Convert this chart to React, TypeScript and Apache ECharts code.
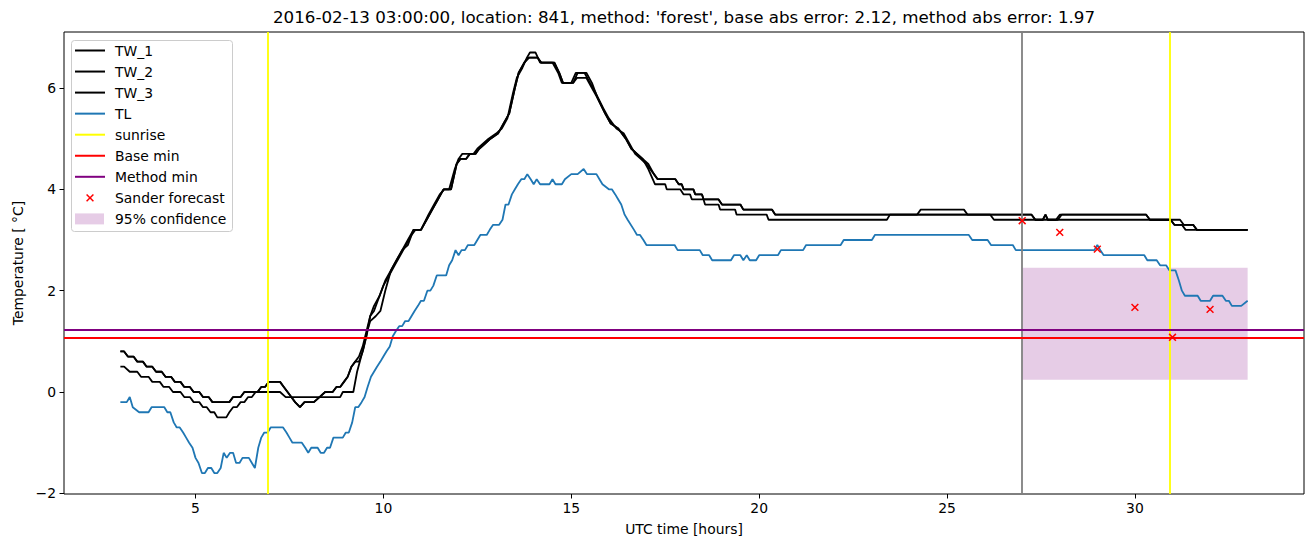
import { useEffect, useRef } from "react";
import * as echarts from "echarts";

const TITLE =
  "2016-02-13 03:00:00, location: 841, method: 'forest', base abs error: 2.12, method abs error: 1.97";
const X_LABEL = "UTC time [hours]";
const Y_LABEL = "Temperature [ °C]";
const X_TICKS = [5, 10, 15, 20, 25, 30];
const Y_TICKS = [-2, 0, 2, 4, 6];
const X_RANGE = [1.5, 34.5];
const Y_RANGE = [-2.013, 7.105];

const TW_1 = [
  [3.0, 0.8], [3.1, 0.8], [3.2, 0.7], [3.35, 0.7], [3.45, 0.6], [3.6, 0.6], [3.7, 0.5], [3.85, 0.5],
  [3.95, 0.4], [4.1, 0.4], [4.2, 0.3], [4.35, 0.3], [4.45, 0.2], [4.6, 0.2], [4.7, 0.1], [4.85, 0.1],
  [4.95, 0.0], [5.1, 0.0], [5.2, -0.1], [5.35, -0.1], [5.45, -0.2], [5.9, -0.2], [6.0, -0.1], [6.2, -0.1],
  [6.3, 0.0], [6.65, 0.0], [6.75, 0.1], [6.85, 0.1], [6.95, 0.2], [7.25, 0.2], [7.35, 0.1], [7.45, 0.0],
  [7.55, -0.1], [7.65, -0.2], [7.78, -0.3], [7.9, -0.2], [8.15, -0.2], [8.3, -0.1], [8.45, 0.0], [8.65, 0.0],
  [8.75, 0.1], [8.85, 0.1], [8.95, 0.2], [9.05, 0.3], [9.15, 0.5], [9.25, 0.6], [9.35, 0.6], [9.45, 0.8],
  [9.55, 1.1], [9.65, 1.5], [9.75, 1.6], [9.85, 1.8], [10.0, 2.1], [10.15, 2.3], [10.3, 2.5], [10.45, 2.7],
  [10.6, 2.9], [10.75, 3.1], [10.85, 3.2], [11.0, 3.2], [11.15, 3.4], [11.3, 3.6], [11.45, 3.8], [11.6, 4.0],
  [11.75, 4.0], [11.9, 4.4], [12.0, 4.6], [12.1, 4.7], [12.4, 4.7], [12.5, 4.8], [12.65, 4.9], [12.8, 5.0],
  [13.0, 5.1], [13.15, 5.2], [13.3, 5.4], [13.45, 5.9], [13.55, 6.2], [13.7, 6.4], [13.82, 6.6], [13.9, 6.7],
  [14.05, 6.7], [14.17, 6.5], [14.5, 6.5], [14.65, 6.3], [14.75, 6.1], [15.0, 6.1], [15.12, 6.3], [15.35, 6.3],
  [15.5, 6.1], [15.65, 5.9], [15.85, 5.6], [16.0, 5.4], [16.2, 5.2], [16.4, 5.1], [16.55, 4.9], [16.7, 4.7],
  [16.85, 4.6], [17.0, 4.5], [17.2, 4.3], [17.3, 4.2], [17.77, 4.2], [17.86, 4.1], [17.94, 4.1], [17.99, 4.0],
  [18.25, 4.0], [18.3, 3.9], [18.48, 3.9], [18.52, 3.8], [18.92, 3.8], [19.01, 3.7], [19.5, 3.7], [19.58, 3.6],
  [20.34, 3.6], [20.43, 3.5], [27.25, 3.5], [27.35, 3.4], [27.95, 3.4], [28.05, 3.5], [30.3, 3.5], [30.4, 3.4],
  [31.2, 3.4], [31.3, 3.3], [31.55, 3.3], [31.65, 3.2], [33.0, 3.2],
];

const TW_2 = [
  [3.0, 0.8], [3.1, 0.8], [3.2, 0.7], [3.35, 0.7], [3.45, 0.6], [3.6, 0.6], [3.7, 0.5], [3.85, 0.5],
  [3.95, 0.4], [4.1, 0.4], [4.2, 0.3], [4.35, 0.3], [4.45, 0.2], [4.6, 0.2], [4.7, 0.1], [4.85, 0.1],
  [4.95, 0.0], [5.1, 0.0], [5.2, -0.1], [5.35, -0.1], [5.45, -0.2], [5.9, -0.2], [6.0, -0.1], [6.2, -0.1],
  [6.3, 0.0], [6.65, 0.0], [6.75, 0.1], [6.85, 0.1], [6.95, 0.2], [7.25, 0.2], [7.35, 0.1], [7.45, 0.0],
  [7.55, -0.1], [7.65, -0.2], [7.78, -0.3], [7.9, -0.2], [8.15, -0.2], [8.3, -0.1], [8.45, 0.0], [8.65, 0.0],
  [8.75, 0.1], [8.85, 0.1], [8.95, 0.2], [9.05, 0.3], [9.15, 0.5], [9.25, 0.6], [9.35, 0.7], [9.45, 0.9],
  [9.55, 1.2], [9.65, 1.5], [9.75, 1.7], [9.9, 1.9], [10.05, 2.2], [10.2, 2.4], [10.35, 2.6], [10.5, 2.8],
  [10.65, 3.0], [10.8, 3.2], [11.0, 3.2], [11.2, 3.5], [11.35, 3.7], [11.5, 3.9], [11.62, 4.0], [11.8, 4.0],
  [11.95, 4.5], [12.05, 4.6], [12.2, 4.6], [12.3, 4.7], [12.45, 4.7], [12.55, 4.8], [12.7, 4.9], [12.85, 5.0],
  [13.05, 5.1], [13.2, 5.3], [13.35, 5.5], [13.5, 6.0], [13.6, 6.3], [13.75, 6.5], [13.85, 6.6], [14.1, 6.6],
  [14.2, 6.5], [14.55, 6.5], [14.68, 6.3], [14.78, 6.1], [15.05, 6.1], [15.15, 6.2], [15.4, 6.2], [15.55, 6.0],
  [15.7, 5.8], [15.9, 5.5], [16.05, 5.3], [16.25, 5.2], [16.45, 5.0], [16.6, 4.8], [16.75, 4.7], [16.9, 4.6],
  [17.05, 4.5], [17.2, 4.3], [17.3, 4.2], [17.77, 4.2], [17.86, 4.1], [17.94, 4.1], [17.99, 4.0], [18.25, 4.0],
  [18.3, 3.9], [18.48, 3.9], [18.52, 3.8], [18.92, 3.8], [19.01, 3.7], [19.5, 3.7], [19.58, 3.6], [20.34, 3.6],
  [20.43, 3.5], [24.2, 3.5], [24.3, 3.6], [25.45, 3.6], [25.55, 3.5], [26.15, 3.5], [26.25, 3.4], [27.55, 3.4],
  [27.62, 3.5], [27.68, 3.4], [30.35, 3.4], [30.95, 3.4], [31.05, 3.3], [31.55, 3.3], [31.65, 3.2], [33.0, 3.2],
];

const TW_3 = [
  [3.0, 0.5], [3.1, 0.5], [3.25, 0.4], [3.45, 0.4], [3.55, 0.3], [3.75, 0.3], [3.85, 0.2], [4.05, 0.2],
  [4.15, 0.1], [4.3, 0.1], [4.4, 0.0], [4.6, 0.0], [4.7, -0.1], [4.85, -0.1], [4.95, -0.2], [5.1, -0.2],
  [5.2, -0.3], [5.3, -0.3], [5.4, -0.4], [5.5, -0.4], [5.58, -0.5], [5.82, -0.5], [5.9, -0.4], [6.0, -0.3],
  [6.1, -0.3], [6.2, -0.2], [6.3, -0.2], [6.4, -0.1], [6.5, -0.1], [6.6, 0.0], [7.25, 0.0], [7.4, -0.1],
  [8.85, -0.1], [8.92, 0.0], [9.2, 0.0], [9.3, 0.4], [9.48, 0.9], [9.57, 1.2], [9.65, 1.4], [9.8, 1.5],
  [9.92, 1.6], [10.05, 2.0], [10.2, 2.4], [10.35, 2.6], [10.5, 2.8], [10.65, 2.9], [10.8, 3.2], [11.0, 3.2],
  [11.15, 3.4], [11.3, 3.6], [11.45, 3.8], [11.6, 4.0], [11.8, 4.0], [11.95, 4.5], [12.05, 4.6], [12.2, 4.6],
  [12.3, 4.7], [12.45, 4.7], [12.55, 4.8], [12.7, 4.9], [12.85, 5.0], [13.05, 5.1], [13.2, 5.3], [13.35, 5.5],
  [13.5, 6.0], [13.6, 6.3], [13.75, 6.5], [13.88, 6.6], [14.1, 6.6], [14.2, 6.5], [14.55, 6.5], [14.68, 6.3],
  [14.78, 6.1], [15.05, 6.1], [15.17, 6.3], [15.4, 6.3], [15.55, 6.1], [15.7, 5.8], [15.9, 5.5], [16.05, 5.3],
  [16.25, 5.2], [16.45, 5.0], [16.6, 4.8], [16.75, 4.7], [16.9, 4.6], [17.05, 4.4], [17.23, 4.1], [17.5, 4.1],
  [17.54, 4.0], [17.9, 4.0], [17.99, 3.9], [18.16, 3.9], [18.21, 3.8], [18.52, 3.8], [18.56, 3.7], [18.92, 3.7],
  [18.96, 3.6], [19.36, 3.6], [19.4, 3.5], [20.2, 3.5], [20.25, 3.4], [23.4, 3.4], [23.48, 3.5], [27.25, 3.5],
  [27.35, 3.4], [27.55, 3.4], [27.62, 3.5], [27.68, 3.4], [27.9, 3.4], [28.0, 3.5], [30.3, 3.5], [30.4, 3.4],
  [30.95, 3.4], [31.05, 3.3], [31.25, 3.3], [31.35, 3.2], [33.0, 3.2],
];

const TL = [
  [3.0, -0.2], [3.17, -0.2], [3.25, -0.1], [3.33, -0.3], [3.5, -0.4], [3.75, -0.4], [3.83, -0.3], [4.17, -0.3],
  [4.25, -0.4], [4.33, -0.4], [4.42, -0.6], [4.5, -0.7], [4.58, -0.7], [4.67, -0.8], [4.75, -0.9], [4.83, -1.0],
  [4.92, -1.1], [5.0, -1.3], [5.08, -1.4], [5.17, -1.6], [5.25, -1.6], [5.33, -1.5], [5.42, -1.5], [5.5, -1.6],
  [5.58, -1.6], [5.67, -1.5], [5.75, -1.2], [5.83, -1.3], [5.92, -1.2], [6.0, -1.2], [6.08, -1.4], [6.17, -1.4],
  [6.25, -1.3], [6.42, -1.3], [6.5, -1.4], [6.58, -1.5], [6.67, -1.1], [6.75, -0.9], [6.83, -0.8], [6.92, -0.8],
  [7.0, -0.7], [7.33, -0.7], [7.42, -0.8], [7.5, -0.9], [7.58, -1.0], [7.83, -1.0], [7.92, -1.1], [8.0, -1.2],
  [8.08, -1.1], [8.25, -1.1], [8.33, -1.2], [8.42, -1.2], [8.5, -1.1], [8.58, -1.1], [8.67, -0.9], [8.92, -0.9],
  [9.0, -0.8], [9.08, -0.8], [9.17, -0.6], [9.25, -0.3], [9.33, -0.3], [9.42, -0.2], [9.5, -0.1], [9.58, 0.1],
  [9.67, 0.3], [9.75, 0.4], [9.83, 0.5], [9.92, 0.6], [10.0, 0.7], [10.08, 0.8], [10.17, 0.9], [10.25, 1.1],
  [10.33, 1.2], [10.42, 1.3], [10.5, 1.3], [10.58, 1.4], [10.67, 1.4], [10.75, 1.5], [10.83, 1.6], [10.92, 1.7],
  [11.0, 1.8], [11.08, 1.8], [11.17, 2.0], [11.25, 2.0], [11.33, 2.1], [11.42, 2.3], [11.67, 2.3], [11.75, 2.5],
  [11.83, 2.6], [11.92, 2.8], [12.0, 2.7], [12.08, 2.8], [12.17, 2.8], [12.25, 2.9], [12.42, 2.9], [12.5, 3.0],
  [12.58, 3.1], [12.75, 3.1], [12.83, 3.2], [12.92, 3.3], [13.08, 3.3], [13.17, 3.4], [13.25, 3.7], [13.33, 3.7],
  [13.42, 3.9], [13.5, 4.0], [13.58, 4.1], [13.67, 4.2], [13.75, 4.2], [13.83, 4.3], [13.92, 4.2], [14.0, 4.1],
  [14.08, 4.2], [14.17, 4.1], [14.42, 4.1], [14.5, 4.2], [14.58, 4.1], [14.75, 4.1], [14.83, 4.2], [15.0, 4.3],
  [15.17, 4.3], [15.33, 4.4], [15.42, 4.3], [15.67, 4.3], [15.75, 4.2], [15.83, 4.1], [16.0, 4.0], [16.08, 4.0],
  [16.17, 3.9], [16.25, 3.8], [16.33, 3.7], [16.42, 3.5], [16.5, 3.4], [16.67, 3.2], [16.75, 3.1], [16.83, 3.1],
  [16.92, 3.0], [17.0, 2.9], [17.75, 2.9], [17.83, 2.8], [18.42, 2.8], [18.5, 2.7], [18.67, 2.7], [18.75, 2.6],
  [19.25, 2.6], [19.33, 2.7], [19.5, 2.7], [19.58, 2.6], [19.67, 2.7], [19.75, 2.6], [19.92, 2.6], [20.0, 2.7],
  [20.5, 2.7], [20.58, 2.8], [21.17, 2.8], [21.25, 2.9], [22.17, 2.9], [22.25, 3.0], [23.0, 3.0], [23.08, 3.1],
  [25.58, 3.1], [25.67, 3.0], [26.08, 3.0], [26.17, 2.9], [26.75, 2.9], [26.83, 2.8], [28.92, 2.8], [29.0, 2.9],
  [29.08, 2.8], [29.17, 2.7], [30.25, 2.7], [30.33, 2.6], [30.58, 2.6], [30.67, 2.5], [30.83, 2.5], [30.92, 2.4],
  [31.08, 2.4], [31.17, 2.2], [31.25, 2.0], [31.33, 1.9], [31.67, 1.9], [31.75, 1.8], [32.0, 1.8], [32.08, 1.9],
  [32.33, 1.9], [32.42, 1.8], [32.5, 1.8], [32.58, 1.7], [32.83, 1.7], [33.0, 1.8],
];

const SUNRISE = [6.93, 30.93];
const FORECAST_START = [27];
const BASE_MIN = [1.085];
const METHOD_MIN = [1.22];
const SANDER_X = [27, 28, 29, 30, 31, 32];
const SANDER_Y = [3.38, 3.15, 2.82, 1.67, 1.08, 1.63];
const CONF_X = [27, 33];
const CONF_Y = [0.243, 2.45];

const LEGEND = [
  { name: "TW_1", kind: "line", color: "#000000" },
  { name: "TW_2", kind: "line", color: "#000000" },
  { name: "TW_3", kind: "line", color: "#000000" },
  { name: "TL", kind: "line", color: "#1f77b4" },
  { name: "sunrise", kind: "line", color: "#ffff00" },
  { name: "Base min", kind: "line", color: "#ff0000" },
  { name: "Method min", kind: "line", color: "#800080" },
  { name: "Sander forecast", kind: "x", color: "#ff0000" },
  { name: "95% confidence", kind: "patch", color: "rgba(128,0,128,0.2)" },
];

const FONT = "DejaVu Sans";
const FS = 13.9;

const fmt = (v: number) => String(v).replace("-", "\u2212");

export default function App() {
  const ref = useRef<HTMLDivElement>(null);
  useEffect(() => {
    if (!ref.current) return;
    const chart = echarts.init(ref.current, undefined, { renderer: "svg" });

    const legendX = 71.5;
    const legendY = 40.5;
    const rowH = 21.05;
    const legendChildren: any[] = [
      {
        type: "rect",
        shape: { x: legendX, y: legendY, width: 161, height: 191, r: 3 },
        style: { fill: "rgba(255,255,255,0.8)", stroke: "#cccccc", lineWidth: 1 },
      },
    ];
    LEGEND.forEach((it, i) => {
      const cy = 50.5 + i * rowH;
      if (it.kind === "line") {
        legendChildren.push({
          type: "line",
          shape: { x1: 75, y1: cy, x2: 105, y2: cy },
          style: { stroke: it.color, lineWidth: 2 },
        });
      } else if (it.kind === "x") {
        const s = 3.4;
        legendChildren.push({
          type: "line",
          shape: { x1: 90 - s, y1: cy - s, x2: 90 + s, y2: cy + s },
          style: { stroke: it.color, lineWidth: 1.5 },
        });
        legendChildren.push({
          type: "line",
          shape: { x1: 90 - s, y1: cy + s, x2: 90 + s, y2: cy - s },
          style: { stroke: it.color, lineWidth: 1.5 },
        });
      } else {
        legendChildren.push({
          type: "rect",
          shape: { x: 75, y: cy - 5.5, width: 29, height: 11 },
          style: { fill: it.color },
        });
      }
      legendChildren.push({
        type: "text",
        x: 115,
        y: cy,
        style: {
          text: it.name,
          font: `${FS}px "${FONT}"`,
          fill: "#000",
          textVerticalAlign: "middle",
          verticalAlign: "middle",
        },
      });
    });

    const lineSeries = (name: string, data: number[][], color: string) => ({
      name,
      type: "line",
      data,
      showSymbol: false,
      symbol: "none",
      lineStyle: { color, width: 1.8 },
      z: 3,
      silent: true,
    });

    const option: any = {
      animation: false,
      grid: {
        left: 64,
        right: 9,
        top: 32,
        bottom: 53,
        show: true,
        borderColor: "#000",
        borderWidth: 1,
        backgroundColor: "transparent",
      },
      xAxis: {
        type: "value",
        min: X_RANGE[0],
        max: X_RANGE[1],
        splitLine: { show: false },
        axisLine: { show: false, onZero: false },
        axisTick: { show: true, customValues: X_TICKS, length: 4.5, lineStyle: { color: "#000" } },
        axisLabel: {
          customValues: X_TICKS,
          color: "#000",
          fontFamily: FONT,
          fontSize: FS,
          margin: 7,
          formatter: fmt,
        },
      },
      yAxis: {
        type: "value",
        min: Y_RANGE[0],
        max: Y_RANGE[1],
        splitLine: { show: false },
        axisLine: { show: false, onZero: false },
        axisTick: { show: true, customValues: Y_TICKS, length: 4.5, lineStyle: { color: "#000" } },
        axisLabel: {
          customValues: Y_TICKS,
          color: "#000",
          fontFamily: FONT,
          fontSize: FS,
          margin: 8,
          formatter: fmt,
        },
      },
      graphic: [
        {
          type: "text",
          x: 684,
          y: 17,
          style: {
            text: TITLE,
            font: `16.7px "${FONT}"`,
            fill: "#000",
            textAlign: "center",
            textVerticalAlign: "middle",
            align: "center",
            verticalAlign: "middle",
          },
        },
        {
          type: "text",
          x: 684,
          y: 529,
          style: {
            text: X_LABEL,
            font: `${FS}px "${FONT}"`,
            fill: "#000",
            textAlign: "center",
            align: "center",
            textVerticalAlign: "middle",
            verticalAlign: "middle",
          },
        },
        {
          type: "text",
          x: 18,
          y: 263,
          rotation: Math.PI / 2,
          style: {
            text: Y_LABEL,
            font: `${FS}px "${FONT}"`,
            fill: "#000",
            textAlign: "center",
            align: "center",
            textVerticalAlign: "middle",
            verticalAlign: "middle",
          },
        },
        { type: "group", z: 100, children: legendChildren },
      ],
      series: [
        {
          name: "conf",
          type: "line",
          data: [],
          z: 1,
          silent: true,
          markArea: {
            silent: true,
            itemStyle: { color: "rgba(128,0,128,0.2)" },
            data: [[{ coord: [CONF_X[0], CONF_Y[0]] }, { coord: [CONF_X[1], CONF_Y[1]] }]],
          },
        },
        lineSeries("TW_1", TW_1, "#000000"),
        lineSeries("TW_2", TW_2, "#000000"),
        lineSeries("TW_3", TW_3, "#000000"),
        lineSeries("TL", TL, "#1f77b4"),
        {
          name: "vlines",
          type: "line",
          data: [],
          z: 4,
          silent: true,
          markLine: {
            silent: true,
            symbol: "none",
            label: { show: false },
            animation: false,
            data: [
              ...SUNRISE.map((v) => ({ xAxis: v, lineStyle: { color: "#ffff00", width: 1.8, type: "solid" } })),
              ...FORECAST_START.map((v) => ({ xAxis: v, lineStyle: { color: "#808080", width: 1.8, type: "solid" } })),
              ...BASE_MIN.map((v) => ({ yAxis: v, lineStyle: { color: "#ff0000", width: 1.8, type: "solid" } })),
              ...METHOD_MIN.map((v) => ({ yAxis: v, lineStyle: { color: "#800080", width: 1.8, type: "solid" } })),
            ],
          },
        },
        {
          name: "Sander forecast",
          type: "custom",
          z: 5,
          silent: true,
          data: SANDER_X.map((x, i) => [x, SANDER_Y[i]]),
          renderItem: (params: any, api: any) => {
            const p = api.coord([api.value(0), api.value(1)]);
            const s = 3.4;
            return {
              type: "group",
              children: [
                {
                  type: "line",
                  shape: { x1: p[0] - s, y1: p[1] - s, x2: p[0] + s, y2: p[1] + s },
                  style: { stroke: "#ff0000", lineWidth: 1.5 },
                },
                {
                  type: "line",
                  shape: { x1: p[0] - s, y1: p[1] + s, x2: p[0] + s, y2: p[1] - s },
                  style: { stroke: "#ff0000", lineWidth: 1.5 },
                },
              ],
            };
          },
        },
      ],
    };
    chart.setOption(option);
    return () => chart.dispose();
  }, []);
  return (
    <div
      ref={ref}
      style={{ position: "fixed", left: 0, top: 0, width: 1313, height: 547, background: "#fff" }}
    />
  );
}
